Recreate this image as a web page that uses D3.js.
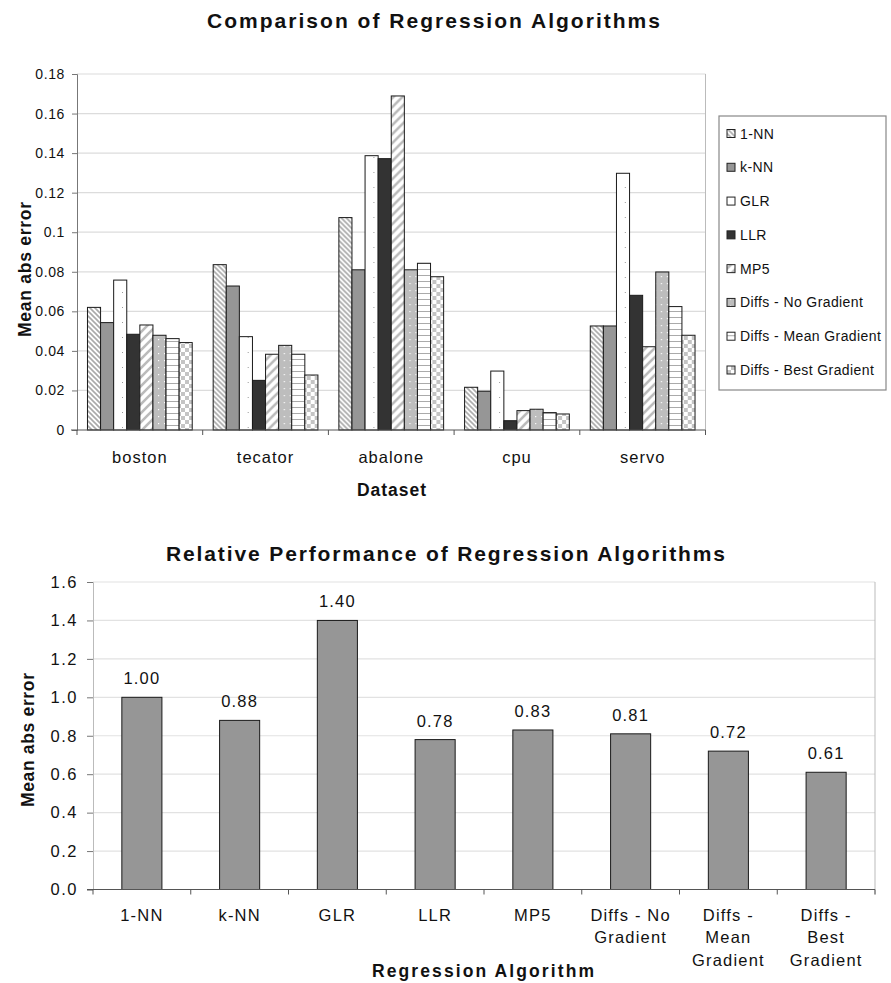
<!DOCTYPE html>
<html>
<head>
<meta charset="utf-8">
<script src="https://cdn.jsdelivr.net/npm/d3@7"></script>
<style>
  body { margin: 0; background: #fff; }
  svg text { font-family: "Liberation Sans", Arial, sans-serif; fill: #111; }
  .title { font-weight: bold; font-size: 21px; }
  .axis-title { font-weight: bold; font-size: 17.5px; }
</style>
</head>
<body>
<div id="chart"></div>
<script>
// --- data ---
const datasets = ['boston', 'tecator', 'abalone', 'cpu', 'servo'];
const algorithms = ['1-NN', 'k-NN', 'GLR', 'LLR', 'MP5', 'Diffs - No Gradient', 'Diffs - Mean Gradient', 'Diffs - Best Gradient'];
const nn1    = [0.062, 0.0836, 0.1074, 0.0216, 0.0526];
const knn    = [0.0543, 0.0728, 0.081, 0.0196, 0.0526];
const glr    = [0.0758, 0.0472, 0.1387, 0.0298, 0.1298];
const llr    = [0.0484, 0.0251, 0.1372, 0.0047, 0.0681];
const mp5    = [0.0531, 0.0383, 0.1689, 0.0098, 0.0421];
const noGrad = [0.0479, 0.0428, 0.081, 0.0105, 0.0799];
const meanGr = [0.0462, 0.0383, 0.0843, 0.0088, 0.0624];
const bestGr = [0.0442, 0.0278, 0.0775, 0.0081, 0.0479];
const topTicks = [0, 0.02, 0.04, 0.06, 0.08, 0.1, 0.12, 0.14, 0.16, 0.18];

const relLabels = [['1-NN'], ['k-NN'], ['GLR'], ['LLR'], ['MP5'], ['Diffs - No', 'Gradient'], ['Diffs -', 'Mean', 'Gradient'], ['Diffs -', 'Best', 'Gradient']];
const relValues = [1.00, 0.88, 1.40, 0.78, 0.83, 0.81, 0.72, 0.61];
const bottomTicks = [0, 0.2, 0.4, 0.6, 0.8, 1.0, 1.2, 1.4, 1.6];

const seriesValues = [nn1, knn, glr, llr, mp5, noGrad, meanGr, bestGr];
const fills = ['url(#p-diag-down)', '#969696', 'url(#p-dots-white)', '#333333', 'url(#p-diag-up)', 'url(#p-dots-grey)', 'url(#p-hlines)', 'url(#p-check)'];

const svg = d3.select('#chart').append('svg')
  .attr('width', 891)
  .attr('height', 983);

// patterns for the bars
const defs = svg.append('defs');

const pDown = defs.append('pattern').attr('id', 'p-diag-down')
  .attr('patternUnits', 'userSpaceOnUse').attr('width', 5).attr('height', 5);
pDown.append('rect').attr('width', 5).attr('height', 5).attr('fill', '#fff');
pDown.append('path').attr('d', 'M-1,-1 L6,6 M-1,4 L1,6 M4,-1 L6,1')
  .attr('stroke', '#aaa').attr('stroke-width', 1.6);

const pUp = defs.append('pattern').attr('id', 'p-diag-up')
  .attr('patternUnits', 'userSpaceOnUse').attr('width', 9).attr('height', 9);
pUp.append('rect').attr('width', 9).attr('height', 9).attr('fill', '#fff');
pUp.append('path').attr('d', 'M-1,10 L10,-1 M-1,1 L1,-1 M8,10 L10,8')
  .attr('stroke', '#bbb').attr('stroke-width', 2.6);

const pDotsW = defs.append('pattern').attr('id', 'p-dots-white')
  .attr('patternUnits', 'userSpaceOnUse').attr('width', 13).attr('height', 15);
pDotsW.append('rect').attr('width', 13).attr('height', 15).attr('fill', '#fff');
pDotsW.append('rect').attr('x', 6).attr('y', 7).attr('width', 1).attr('height', 1).attr('fill', '#999');

const pDotsG = defs.append('pattern').attr('id', 'p-dots-grey')
  .attr('patternUnits', 'userSpaceOnUse').attr('width', 6).attr('height', 7);
pDotsG.append('rect').attr('width', 6).attr('height', 7).attr('fill', '#bdbdbd');
pDotsG.append('rect').attr('x', 3).attr('y', 3).attr('width', 1.2).attr('height', 1.2).attr('fill', '#fff');

const pH = defs.append('pattern').attr('id', 'p-hlines')
  .attr('patternUnits', 'userSpaceOnUse').attr('width', 6).attr('height', 6);
pH.append('rect').attr('width', 6).attr('height', 6).attr('fill', '#fff');
pH.append('rect').attr('y', 5).attr('width', 6).attr('height', 1).attr('fill', '#aaa');

const pC = defs.append('pattern').attr('id', 'p-check')
  .attr('patternUnits', 'userSpaceOnUse').attr('width', 8).attr('height', 8);
pC.append('rect').attr('width', 8).attr('height', 8).attr('fill', '#fff');
pC.append('rect').attr('width', 4).attr('height', 4).attr('fill', '#c4c4c4');
pC.append('rect').attr('x', 4).attr('y', 4).attr('width', 4).attr('height', 4).attr('fill', '#c4c4c4');

// ---------- top chart: grouped bars ----------
const upper = { left: 77, right: 705.5, top: 74, bottom: 430 };

svg.append('text').attr('class', 'title')
  .attr('x', 207).attr('y', 28)
  .attr('textLength', 453).attr('lengthAdjust', 'spacing')
  .text('Comparison of Regression Algorithms');

const x0 = d3.scaleBand().domain(datasets).range([upper.left, upper.right]);
const x1 = d3.scaleBand().domain(algorithms).range([0, x0.bandwidth()]).paddingOuter(0.8);
const y = d3.scaleLinear().domain([0, 0.18]).range([upper.bottom, upper.top]);

// gridlines
svg.append('g').selectAll('line').data(topTicks.slice(1)).enter().append('line')
  .attr('x1', upper.left).attr('x2', upper.right)
  .attr('y1', d => y(d)).attr('y2', d => y(d))
  .attr('stroke', '#dcdcdc').attr('stroke-width', 1.2);

svg.append('line')
  .attr('x1', upper.right).attr('x2', upper.right)
  .attr('y1', upper.top).attr('y2', upper.bottom)
  .attr('stroke', '#bbb');

const groups = svg.append('g').selectAll('g').data(datasets).enter().append('g')
  .attr('transform', d => 'translate(' + x0(d) + ',0)');

groups.selectAll('rect')
  .data((d, i) => algorithms.map((a, j) => ({ alg: a, idx: j, value: seriesValues[j][i] })))
  .enter().append('rect')
  .attr('x', d => x1(d.alg))
  .attr('y', d => y(d.value))
  .attr('width', x1.bandwidth())
  .attr('height', d => upper.bottom - y(d.value))
  .attr('fill', d => fills[d.idx])
  .attr('stroke', '#1a1a1a')
  .attr('stroke-width', 1);

// y axis
const yAxis = svg.append('g')
  .attr('transform', 'translate(' + upper.left + ',0)')
  .call(d3.axisLeft(y).tickValues(topTicks).tickSize(5).tickPadding(7)
    .tickFormat(d => d3.format('')(+d.toFixed(2))));
yAxis.select('.domain').attr('stroke', '#777');
yAxis.selectAll('.tick line').attr('stroke', '#777');
yAxis.selectAll('text').style('font-size', '14px').style('letter-spacing', '0.6px');

// x axis with ticks at group boundaries
const xAxis = svg.append('g')
  .attr('transform', 'translate(0,' + upper.bottom + ')');
xAxis.append('line').attr('x1', upper.left - 6).attr('x2', upper.right)
  .attr('stroke', '#555');
xAxis.selectAll('.sep').data(datasets).enter().append('line')
  .attr('x1', d => x0(d) + x0.bandwidth()).attr('x2', d => x0(d) + x0.bandwidth())
  .attr('y1', 0).attr('y2', 5).attr('stroke', '#555');
xAxis.append('line').attr('x1', upper.left).attr('x2', upper.left).attr('y1', 0).attr('y2', 5).attr('stroke', '#555');
xAxis.selectAll('.lbl').data(datasets).enter().append('text')
  .attr('x', d => x0(d) + x0.bandwidth() / 2)
  .attr('y', 33)
  .attr('text-anchor', 'middle')
  .style('font-size', '16.5px').style('letter-spacing', '1px')
  .text(d => d);

svg.append('text').attr('class', 'axis-title')
  .attr('x', 357).attr('y', 496)
  .attr('textLength', 69).attr('lengthAdjust', 'spacing')
  .text('Dataset');

svg.append('text').attr('class', 'axis-title')
  .attr('transform', 'translate(31,337) rotate(-90)')
  .attr('textLength', 135).attr('lengthAdjust', 'spacing')
  .text('Mean abs error');

// legend
const legend = svg.append('g');
legend.append('rect')
  .attr('x', 719).attr('y', 116).attr('width', 167).attr('height', 274)
  .attr('fill', '#fff').attr('stroke', '#888').attr('stroke-width', 1.2);
const legendY = d3.scalePoint().domain(algorithms).range([133.5, 370]);
const li = legend.selectAll('.item').data(algorithms).enter().append('g')
  .attr('transform', d => 'translate(727,' + legendY(d) + ')');
li.append('rect')
  .attr('x', 0).attr('y', -4).attr('width', 8).attr('height', 8)
  .attr('fill', (d, i) => fills[i]).attr('stroke', '#222').attr('stroke-width', 1);
li.append('text')
  .attr('x', 13).attr('y', 5)
  .style('font-size', '14px').style('letter-spacing', '0.4px')
  .text(d => d);

// ---------- bottom chart: relative performance ----------
const lower = { left: 93, right: 875, top: 582, bottom: 889.5 };

svg.append('text').attr('class', 'title')
  .attr('x', 166).attr('y', 561)
  .attr('textLength', 559).attr('lengthAdjust', 'spacing')
  .text('Relative Performance of Regression Algorithms');

const relKeys = relLabels.map(l => l.join(' '));
const bx = d3.scaleBand().domain(relKeys).range([lower.left, lower.right])
  .paddingInner(0.59).paddingOuter(0.295);
const bstep = (lower.right - lower.left) / relKeys.length;
const by = d3.scaleLinear().domain([0, 1.6]).range([lower.bottom, lower.top]);

svg.append('g').selectAll('line').data(bottomTicks.slice(1)).enter().append('line')
  .attr('x1', lower.left).attr('x2', lower.right)
  .attr('y1', d => by(d)).attr('y2', d => by(d))
  .attr('stroke', '#e2e2e2').attr('stroke-width', 1.2);

svg.append('line')
  .attr('x1', lower.right).attr('x2', lower.right)
  .attr('y1', lower.top).attr('y2', lower.bottom + 5)
  .attr('stroke', '#bbb');

svg.append('g').selectAll('rect').data(relValues).enter().append('rect')
  .attr('x', (d, i) => bx(relKeys[i]))
  .attr('y', d => by(d))
  .attr('width', bx.bandwidth())
  .attr('height', d => lower.bottom - by(d))
  .attr('fill', '#969696')
  .attr('stroke', '#1a1a1a').attr('stroke-width', 1);

svg.append('g').selectAll('text').data(relValues).enter().append('text')
  .attr('x', (d, i) => bx(relKeys[i]) + bx.bandwidth() / 2)
  .attr('y', d => by(d) - 13)
  .attr('text-anchor', 'middle')
  .style('font-size', '16.5px').style('letter-spacing', '1.2px')
  .text(d => d.toFixed(2));

const byAxis = svg.append('g')
  .attr('transform', 'translate(' + lower.left + ',0)')
  .call(d3.axisLeft(by).tickValues(bottomTicks).tickSize(6).tickPadding(9).tickFormat(d3.format('.1f')));
byAxis.select('.domain').attr('stroke', '#bbb');
byAxis.selectAll('.tick line').attr('stroke', '#777');
byAxis.selectAll('text').style('font-size', '16.5px').style('letter-spacing', '1.5px');

const bxAxis = svg.append('g').attr('transform', 'translate(0,' + lower.bottom + ')');
bxAxis.append('line').attr('x1', lower.left - 6).attr('x2', lower.right).attr('stroke', '#555');
bxAxis.selectAll('.sep').data(d3.range(relKeys.length + 1)).enter().append('line')
  .attr('x1', i => lower.left + i * bstep).attr('x2', i => lower.left + i * bstep)
  .attr('y1', 0).attr('y2', 5).attr('stroke', '#555');
const lblG = bxAxis.selectAll('.lbl').data(relLabels).enter().append('text')
  .attr('text-anchor', 'middle')
  .attr('transform', (d, i) => 'translate(' + (bx(relKeys[i]) + bx.bandwidth() / 2) + ',31)')
  .style('font-size', '16.5px').style('letter-spacing', '1.2px');
lblG.selectAll('tspan').data(d => d).enter().append('tspan')
  .attr('x', 0).attr('dy', (d, i) => i === 0 ? 0 : 22.5)
  .text(d => d);

svg.append('text').attr('class', 'axis-title')
  .attr('x', 372).attr('y', 977)
  .attr('textLength', 222).attr('lengthAdjust', 'spacing')
  .text('Regression Algorithm');

svg.append('text').attr('class', 'axis-title')
  .attr('transform', 'translate(34,807) rotate(-90)')
  .attr('textLength', 134).attr('lengthAdjust', 'spacing')
  .text('Mean abs error');
</script>
</body>
</html>
